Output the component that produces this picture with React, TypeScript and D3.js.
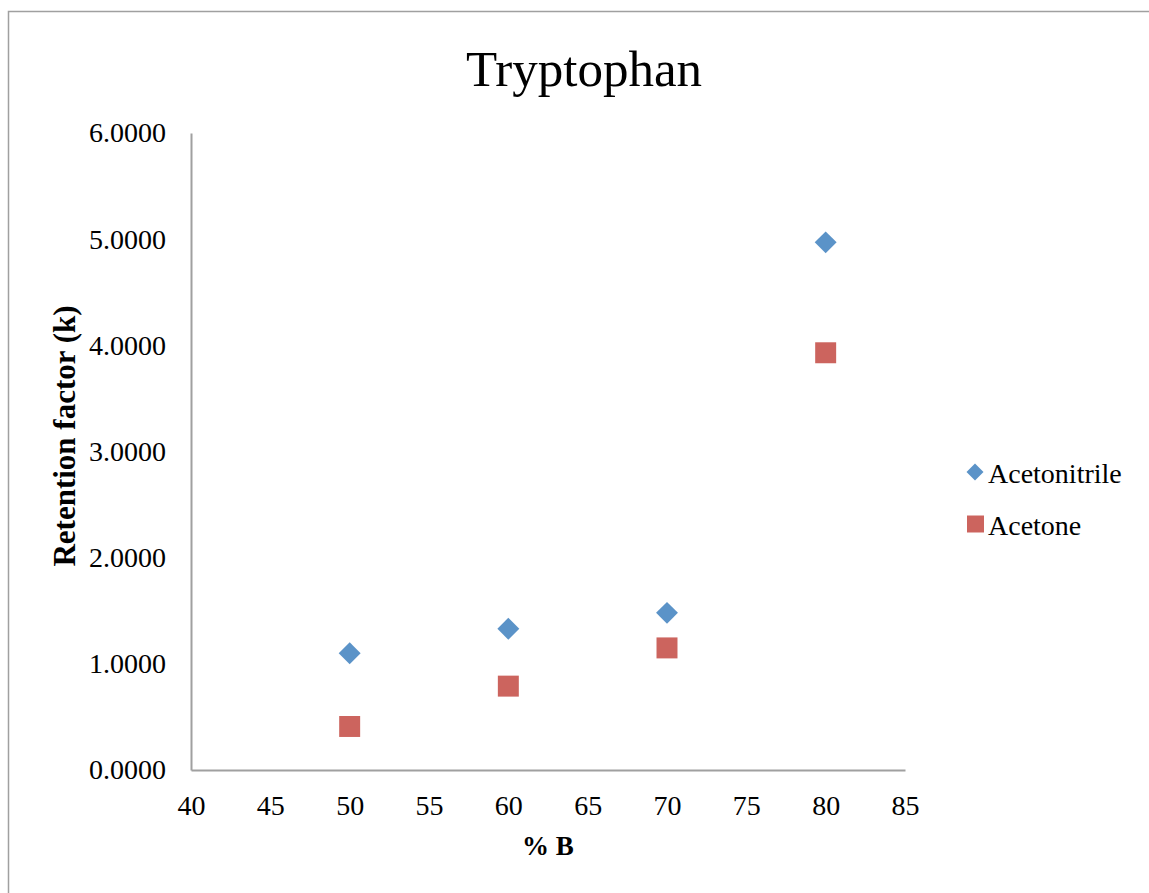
import { useEffect, useRef } from "react";
import * as d3 from "d3";

const percentB = [50, 60, 70, 80];
const acetonitrile = [1.10, 1.33, 1.48, 4.97];
const acetone = [0.41, 0.79, 1.15, 3.93];
const seriesNames = ["Acetonitrile", "Acetone"];
const xTicks = [40, 45, 50, 55, 60, 65, 70, 75, 80, 85];
const yTicks = [0, 1, 2, 3, 4, 5, 6];

const FONT = "'Liberation Serif', 'Times New Roman', serif";

export default function App() {
  const svgRef = useRef<SVGSVGElement | null>(null);

  useEffect(() => {
    if (!svgRef.current) return;
    const svg = d3.select(svgRef.current);
    svg.selectAll("*").remove();

    const x = d3.scaleLinear().domain([40, 85]).range([191, 905]);
    const y = d3.scaleLinear().domain([0, 6]).range([770, 133]);

    // outer frame (only top and left edges visible)
    svg.append("path")
      .attr("d", "M8.5,893 L8.5,11.5 L1149,11.5")
      .attr("fill", "none")
      .attr("stroke", "#a0a0a0")
      .attr("stroke-width", 1.5);

    svg.append("text")
      .attr("x", 584)
      .attr("y", 86)
      .attr("text-anchor", "middle")
      .style("font-family", FONT)
      .style("font-size", "51px")
      .text("Tryptophan");

    // axes
    const xAxis = svg.append("g")
      .attr("transform", `translate(0,${y(0)})`)
      .call(d3.axisBottom(x).tickValues(xTicks).tickSize(0).tickPadding(0).tickFormat(d3.format("d")));
    xAxis.select(".domain").attr("stroke", "#a0a0a0").attr("stroke-width", 2);
    xAxis.selectAll("text")
      .attr("y", 45)
      .attr("dy", null)
      .attr("fill", "#000")
      .style("font-family", FONT)
      .style("font-size", "28px");

    const yAxis = svg.append("g")
      .attr("transform", `translate(${x(40)},0)`)
      .call(d3.axisLeft(y).tickValues(yTicks).tickSize(0).tickPadding(25).tickFormat(d3.format(".4f")));
    yAxis.select(".domain").attr("stroke", "#a0a0a0").attr("stroke-width", 2);
    yAxis.selectAll("text")
      .attr("fill", "#000")
      .style("font-family", FONT)
      .style("font-size", "28px");

    svg.append("text")
      .attr("transform", "translate(75,436) rotate(-90)")
      .attr("text-anchor", "middle")
      .style("font-family", FONT)
      .style("font-weight", "bold")
      .style("font-size", "31px")
      .text("Retention factor (k)");

    svg.append("text")
      .attr("x", 548)
      .attr("y", 855)
      .attr("text-anchor", "middle")
      .style("font-family", FONT)
      .style("font-weight", "bold")
      .style("font-size", "27px")
      .text("% B");

    const colors = ["#5b93c8", "#cc645e"];
    const diamond = d3.symbol(d3.symbolSquare, 240);
    const square = d3.symbol(d3.symbolSquare, 440);

    svg.append("g").selectAll("path")
      .data(percentB.map((p, i) => ({ p, v: acetonitrile[i] })))
      .join("path")
      .attr("d", diamond()!)
      .attr("transform", (d) => `translate(${x(d.p)},${y(d.v)}) rotate(45)`)
      .attr("fill", colors[0]);

    svg.append("g").selectAll("path")
      .data(percentB.map((p, i) => ({ p, v: acetone[i] })))
      .join("path")
      .attr("d", square()!)
      .attr("transform", (d) => `translate(${x(d.p)},${y(d.v)})`)
      .attr("fill", colors[1]);

    // legend
    const legend = svg.append("g");
    seriesNames.forEach((name, i) => {
      const cy = 472 + i * 52;
      legend.append("path")
        .attr("d", i === 0 ? d3.symbol(d3.symbolSquare, 145)()! : d3.symbol(d3.symbolSquare, 289)()!)
        .attr("transform", i === 0 ? `translate(975,${cy}) rotate(45)` : `translate(975.5,${cy})`)
        .attr("fill", colors[i]);
      legend.append("text")
        .attr("x", 988)
        .attr("y", cy + 11)
        .style("font-family", FONT)
        .style("font-size", "28px")
        .text(name);
    });
  }, []);

  return (
    <svg
      ref={svgRef}
      width={1149}
      height={893}
      style={{ position: "absolute", left: 0, top: 0, background: "#fff" }}
    />
  );
}
